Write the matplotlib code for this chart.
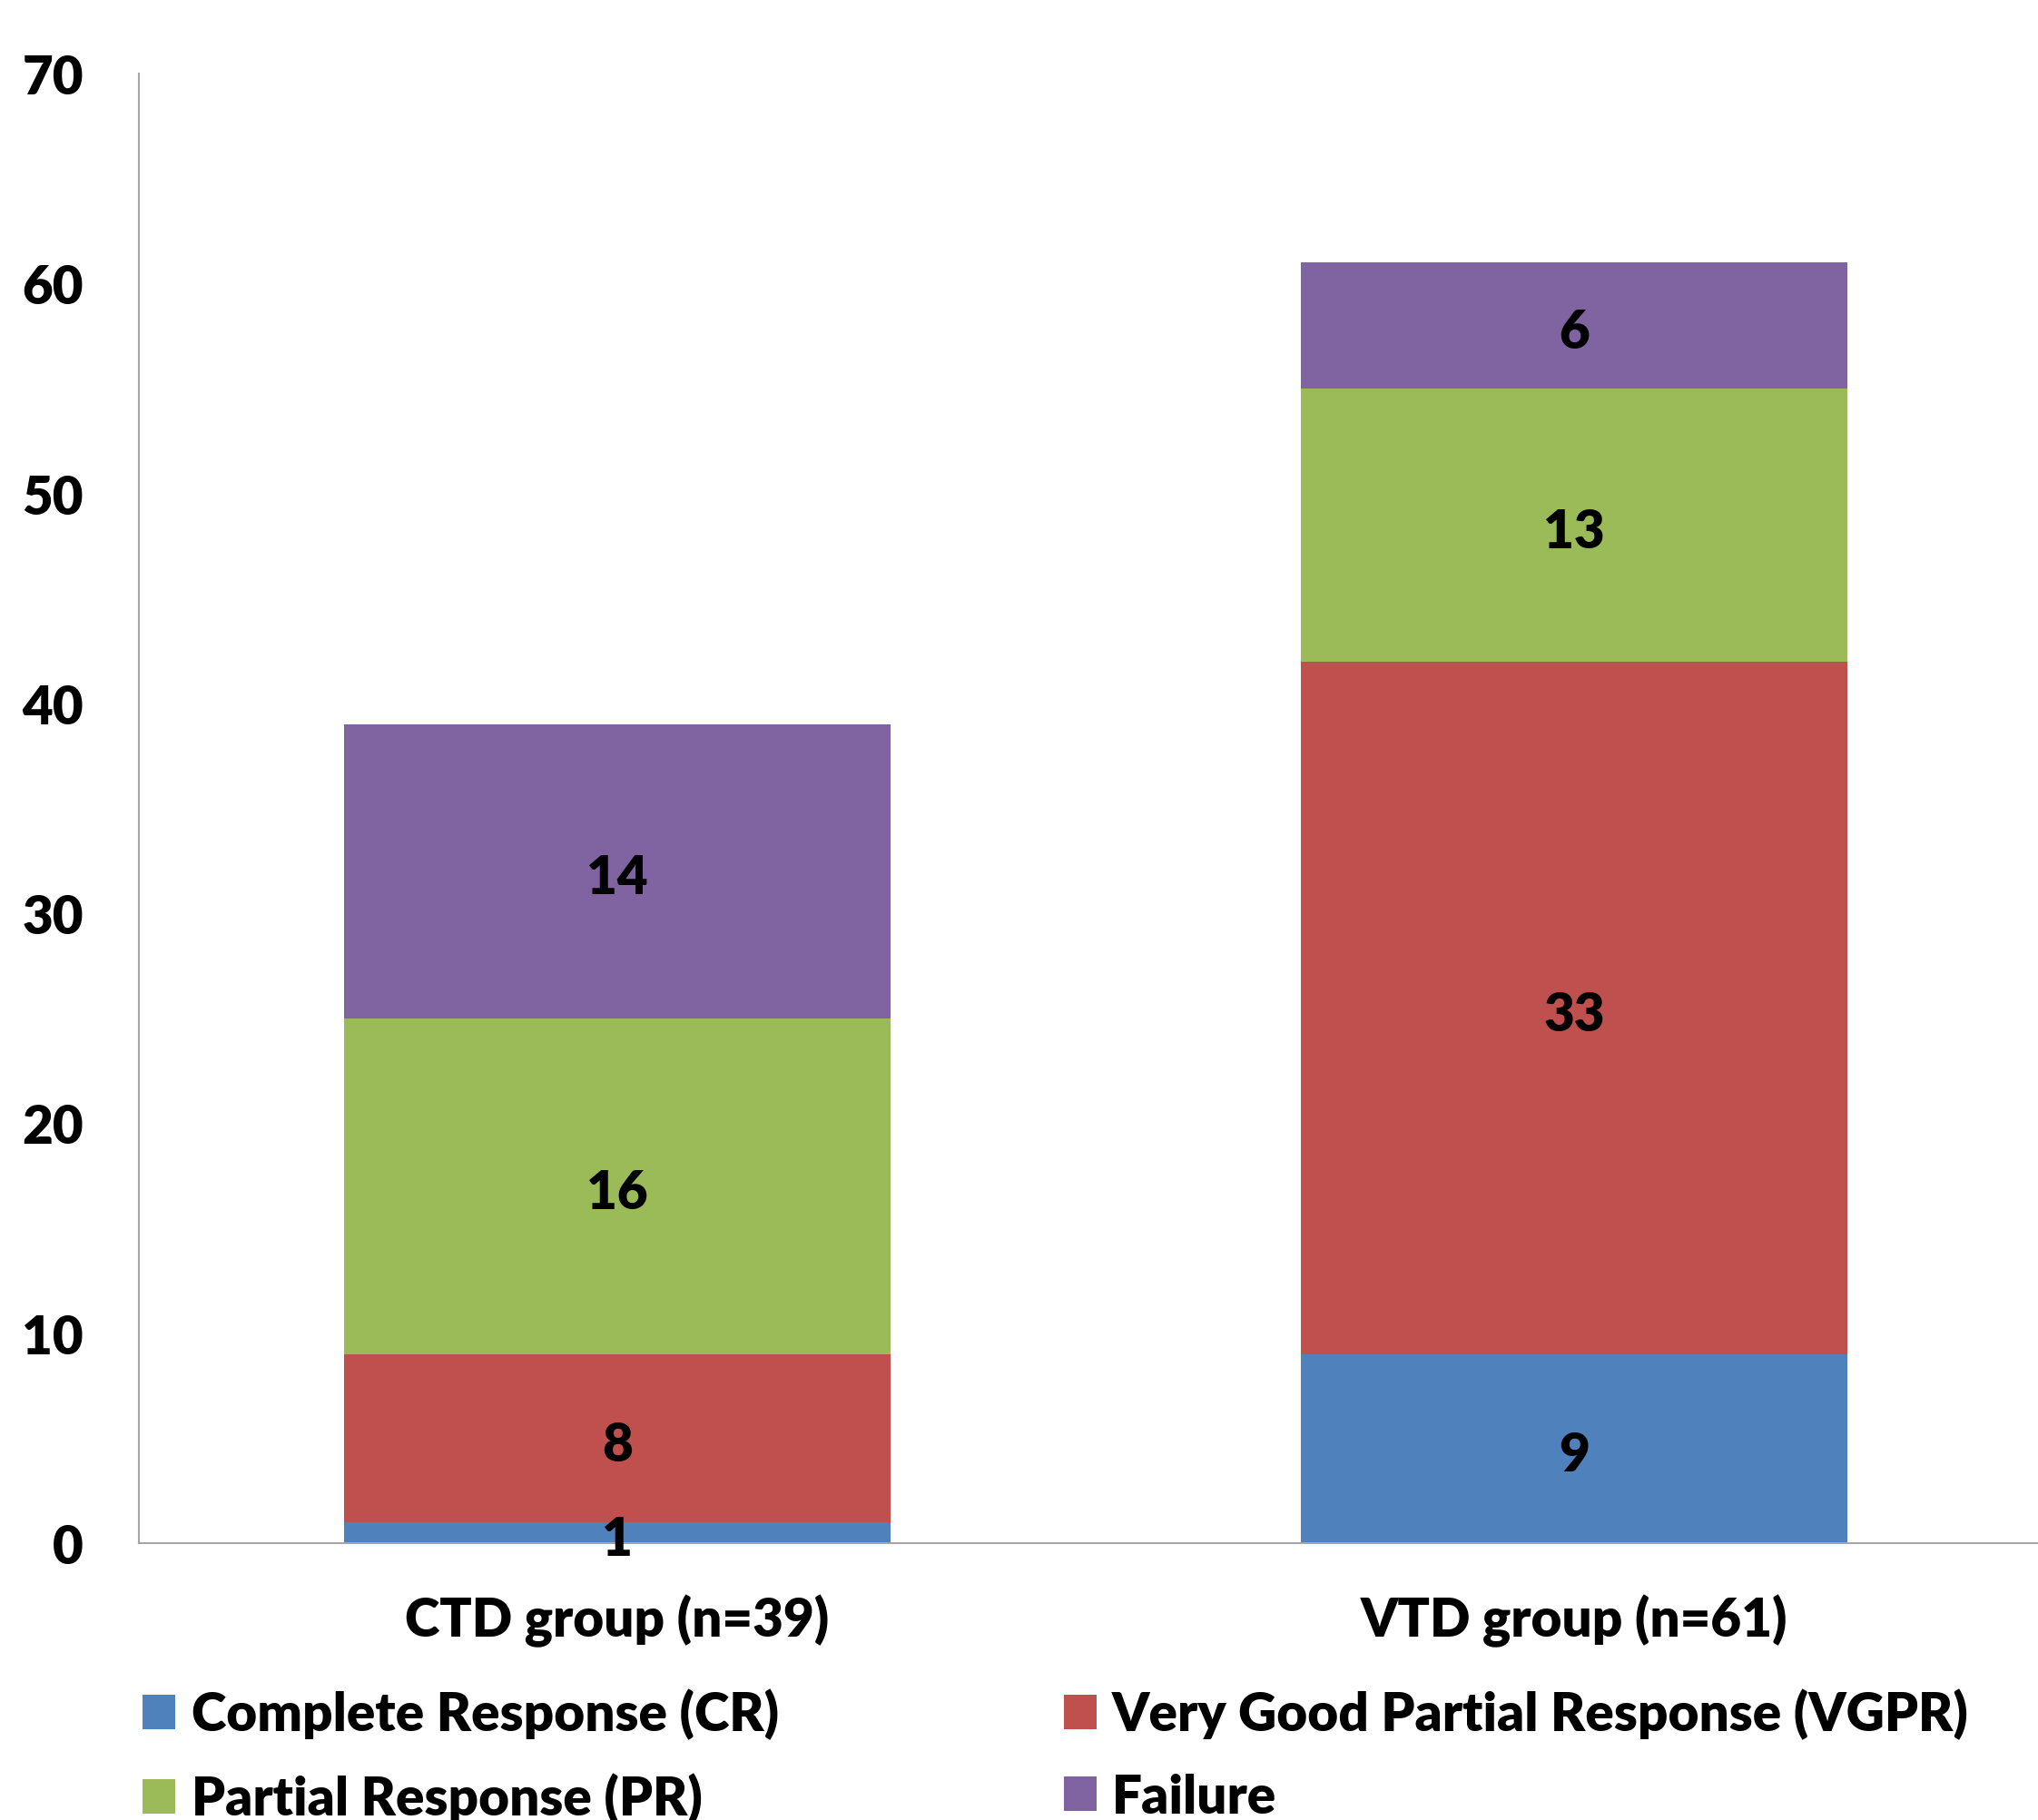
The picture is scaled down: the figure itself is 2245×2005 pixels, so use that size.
import matplotlib.pyplot as plt
import numpy as np

# Response counts per group
groups = ['CTD group (n=39)', 'VTD group (n=61)']
cr = [1, 9]
vgpr = [8, 33]
pr = [16, 13]
failure = [14, 6]

series_names = ['Complete Response (CR)', 'Very Good Partial Response (VGPR)',
                'Partial Response (PR)', 'Failure']
colors = ['#4F81BD', '#C0504D', '#9BBB59', '#8064A2']
yticks = [0, 10, 20, 30, 40, 50, 60, 70]

plt.rcParams['font.family'] = ['Lato', 'DejaVu Sans']
wt = 'heavy'
plt.rcParams['font.weight'] = wt
fs = 42

fig = plt.figure(figsize=(22.45, 20.06), dpi=100)
ax = fig.add_axes([0.06815, 0.15204, 0.939, 0.8071])

x = np.arange(len(groups))
bottom = np.zeros(len(groups))
handles = []
for vals, name, c in zip([cr, vgpr, pr, failure], series_names, colors):
    bars = ax.bar(x, vals, 0.571, bottom=bottom, color=c, label=name)
    texts = ax.bar_label(bars, labels=[str(v) for v in vals], label_type='center',
                         fontsize=fs, fontweight=wt, color='black')
    # nudge labels down a little, like the original
    for t in texts:
        t.xyann = (0, -5)
    bottom += np.array(vals)
    handles.append(bars)

ax.set_xlim(-0.5, 1.5)
ax.set_ylim(0, 70)
ax.set_yticks(yticks)
ax.set_xticks(x)
ax.set_xticklabels(groups)
ax.tick_params(axis='both', length=0, labelsize=fs)
ax.tick_params(axis='y', pad=44)
ax.tick_params(axis='x', pad=40)
for lab in ax.get_xticklabels() + ax.get_yticklabels():
    lab.set_fontweight(wt)

for s in ['top', 'right']:
    ax.spines[s].set_visible(False)
for s in ['left', 'bottom']:
    ax.spines[s].set_color('#A6A6A6')
    ax.spines[s].set_linewidth(1.5)

# legend: two columns, read row by row
order = [0, 2, 1, 3]
fig.legend([handles[i] for i in order], [series_names[i] for i in order],
           ncol=2, loc='upper left', bbox_to_anchor=(0.0699, 0.0723),
           frameon=False, fontsize=fs, handlelength=0.62, handleheight=0.62,
           handletextpad=0.30, labelspacing=0.62, columnspacing=5.38,
           borderaxespad=0, borderpad=0)

plt.savefig('out.png', dpi=100)
